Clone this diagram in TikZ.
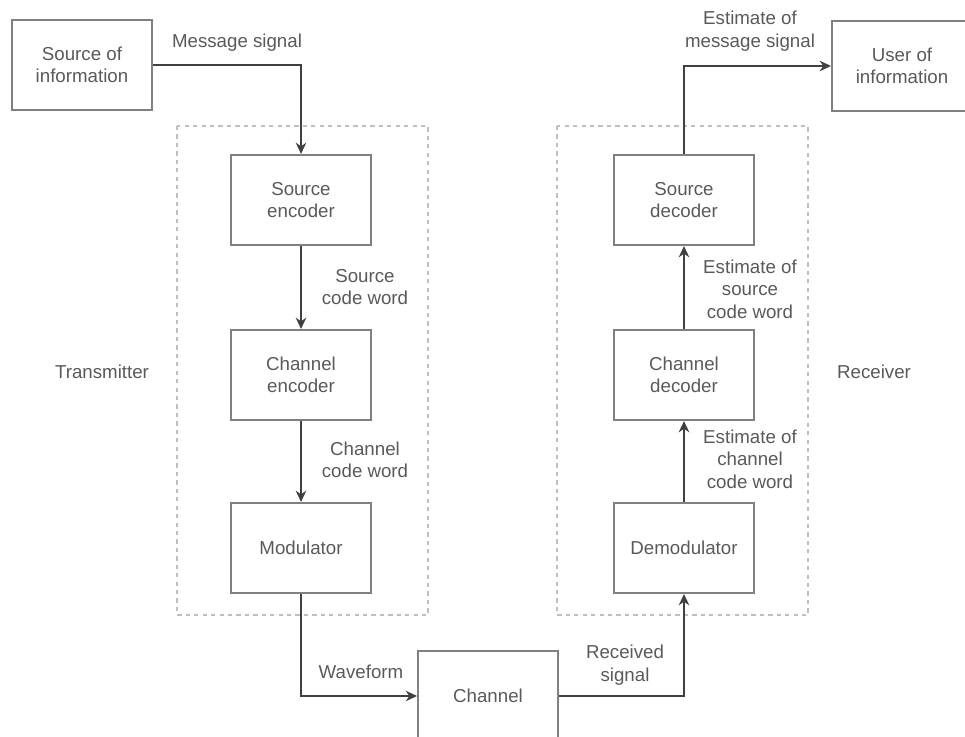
\documentclass[tikz,border=0pt]{standalone}
\usepackage{fontspec}
\setmainfont{Liberation Sans}
\usepackage{tikz}
\usetikzlibrary{arrows.meta}
\tikzstyle{edge}=[-{Stealth[length=8pt,width=7.5pt]}, line width=1.3pt, draw=black!75]
\tikzstyle{rotulo}=[align=center, text=black!65, font=\fontsize{13.3}{16}\selectfont]

\begin{document}
\begin{tikzpicture}[x=0.025cm,y=-0.025cm,
          bloque/.style={rectangle,draw=black!50,line width=1.5pt,minimum width=3.5cm,
            minimum height=2.25cm,rotulo},
          marco/.style={draw=black!25,dashed,line width=1pt}]
        \useasboundingbox (0,0) rectangle (965,736);
        % marcos del transmisor y del receptor
        \draw [marco] (177,126) rectangle (428,615);
        \draw [marco] (557,126) rectangle (808,615);
        % bloques
        \node [bloque] (fuente)   at (82,65)   {Source of\\information};
        \node [bloque] (codfte)   at (301,200) {Source\\encoder};
        \node [bloque] (codcan)   at (301,375) {Channel\\encoder};
        \node [bloque] (modul)    at (301,548) {Modulator};
        \node [bloque] (canal)    at (488,696) {Channel};
        \node [bloque] (demod)    at (684,548) {Demodulator};
        \node [bloque] (deccan)   at (684,375) {Channel\\decoder};
        \node [bloque] (decfte)   at (684,200) {Source\\decoder};
        \node [bloque] (usuario)  at (902,66)  {User of\\information};
        % rotulos
        \node [rotulo] (tx)   at (102,372) {Transmitter};
        \node [rotulo] (rx)   at (874,372) {Receiver};
        \node [rotulo] (msg)  at (237,43)  {Message signal};
        \node [rotulo] (emsg) at (750,31)  {Estimate of\\message signal};
        \node [rotulo] (cfte) at (365,287) {Source\\code word};
        \node [rotulo] (ccan) at (365,460) {Channel\\code word};
        \node [rotulo] (efte) at (750,289) {Estimate of\\source\\code word};
        \node [rotulo] (ecan) at (750,459) {Estimate of\\channel\\code word};
        \node [rotulo] (onda) at (361,672) {Waveform};
        \node [rotulo] (rec)  at (625,665) {Received\\signal};
        % conexiones
        \draw [edge] (fuente.east) -| (codfte.north);
        \path [edge]
        (codfte) edge (codcan)
        (codcan) edge (modul)
        (demod)  edge (deccan)
        (deccan) edge (decfte);
        \draw [edge] (modul.south) |- (canal.west);
        \draw [edge] (canal.east) -| (demod.south);
        \draw [edge] (decfte.north) |- (usuario.west);
\end{tikzpicture}
\end{document}
